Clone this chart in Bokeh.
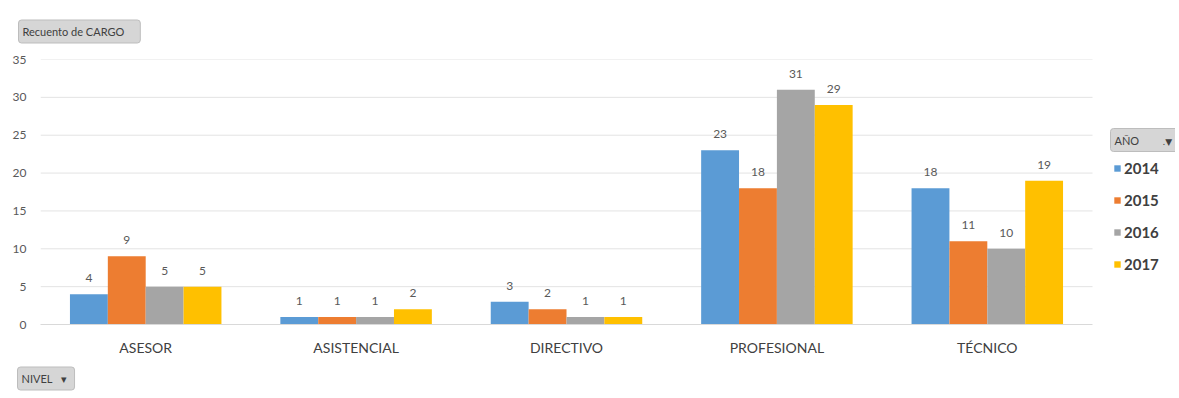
from bokeh.plotting import figure
from bokeh.models import (ColumnDataSource, Range1d, Label, Legend, LegendItem, LabelSet,
                          FixedTicker, Title)
from bokeh.core.properties import value
from bokeh.embed import file_html
from bokeh.resources import INLINE

cats = ["ASESOR", "ASISTENCIAL", "DIRECTIVO", "PROFESIONAL", "TÉCNICO"]
years = ["2014", "2015", "2016", "2017"]
y2014 = [4, 1, 3, 23, 18]
y2015 = [9, 1, 2, 18, 11]
y2016 = [5, 1, 1, 31, 10]
y2017 = [5, 2, 1, 29, 19]
colors = ["#5B9BD5", "#ED7D31", "#A5A5A5", "#FFC000"]
yticks = [0, 5, 10, 15, 20, 25, 30, 35]

FONT = "Lato"
N = len(cats)
centers = [i + 0.5 for i in range(N)]

series = {"2014": y2014, "2015": y2015, "2016": y2016, "2017": y2017}

p = figure(x_range=Range1d(0, (1175 - 40) / 210.4), y_range=Range1d(0, 35),
           width=1175, height=396, output_backend="svg", toolbar_location=None,
           min_border_left=40, min_border_right=0, min_border_top=59, min_border_bottom=71)
p.outline_line_color = None
p.background_fill_color = "white"
p.border_fill_color = "white"

# horizontal gridlines limited to the category area
p.segment(x0=[0] * (len(yticks) - 1), x1=[N] * (len(yticks) - 1),
          y0=yticks[1:], y1=yticks[1:], line_color="#E3E3E3", line_width=1)

offsets = [-0.27, -0.09, 0.09, 0.27]
items = []
for yr, off, col in zip(years, offsets, colors):
    vals = series[yr]
    src = ColumnDataSource(dict(x=[c + off for c in centers], top=vals, t=[str(v) for v in vals]))
    r = p.vbar(x="x", top="top", width=0.18, source=src, fill_color=col, line_color=None)
    items.append(LegendItem(label=yr, renderers=[r]))
    p.add_layout(LabelSet(x="x", y="top", text="t", source=src,
                          text_align="center", text_baseline="bottom", y_offset=12,
                          text_font=value(FONT), text_font_size="12px", text_color="#595959"))

p.yaxis.ticker = yticks
p.yaxis.axis_line_color = None
p.yaxis.major_tick_line_color = None
p.yaxis.minor_tick_line_color = None
p.yaxis.major_label_text_font = FONT
p.yaxis.major_label_text_font_size = "12px"
p.yaxis.major_label_text_color = "#595959"
p.yaxis.major_label_standoff = 8

p.xaxis.ticker = FixedTicker(ticks=centers)
p.xaxis.major_label_overrides = {c: name for c, name in zip(centers, cats)}
p.xaxis.bounds = (0, N)
p.xaxis.axis_line_color = "#D9D9D9"
p.xaxis.major_tick_line_color = None
p.xaxis.minor_tick_line_color = None
p.xaxis.major_label_text_font = FONT
p.xaxis.major_label_text_font_size = "14px"
p.xaxis.major_label_text_color = "#404040"
p.xaxis.major_label_standoff = 8

p.xgrid.grid_line_color = None
p.ygrid.grid_line_color = None

legend = Legend(items=items, location=(1073, 50), orientation="vertical",
                glyph_width=8, glyph_height=8, label_height=20, spacing=12,
                label_text_font=FONT, label_text_font_size="15px", label_text_color="#404040",
                label_text_font_style="bold", label_standoff=3,
                background_fill_alpha=0, border_line_color=None, padding=0, margin=0)
p.add_layout(legend, "center")

# "AÑO" field button above the legend
p.add_layout(Label(x=1070, y=173, x_units="screen", y_units="screen", text="AÑO",
                   text_font=FONT, text_font_size="11px", text_color="#404040",
                   background_fill_color="#D6D6D6", border_line_color="#BDBDBD",
                   padding=dict(left=4, right=49, top=5, bottom=5), border_radius=3))
p.add_layout(Label(x=1122, y=178, x_units="screen", y_units="screen", text=".\u25bc",
                   text_font="DejaVu Sans", text_font_size="9px", text_color="#404040"))

# "Recuento de CARGO" field button (title slot)
p.title.text = "Recuento de CARGO"
p.title.align = "left"
p.title.offset = -22
p.title.standoff = 33
p.title.text_font = FONT
p.title.text_font_size = "11px"
p.title.text_font_style = "normal"
p.title.text_color = "#404040"
p.title.background_fill_color = "#D6D6D6"
p.title.border_line_color = "#BDBDBD"
p.title.padding = dict(left=4, right=16, top=5, bottom=5)
p.title.border_radius = 3

# "NIVEL" field button below the axis
nivel = Title(text="NIVEL\u00a0\u00a0\u00a0\u25be", align="left", offset=-23, standoff=13,
              text_font=FONT, text_font_size="11px", text_font_style="normal", text_color="#404040",
              background_fill_color="#D6D6D6", border_line_color="#BDBDBD",
              padding=dict(left=4, right=8, top=5, bottom=5), border_radius=3)
p.add_layout(nivel, "below")

open("out.html", "w").write(file_html(p, INLINE))
